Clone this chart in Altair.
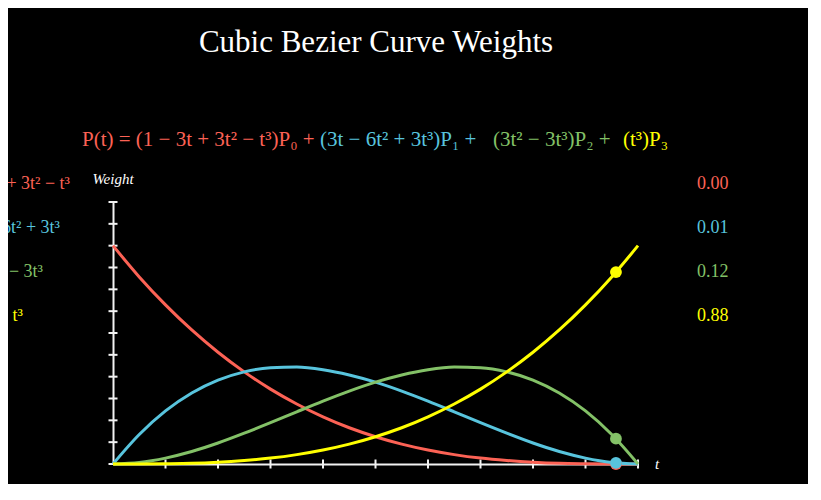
import altair as alt
import pandas as pd

# ---- data ----
t_vals = [0.00, 0.05, 0.10, 0.15, 0.20, 0.25, 0.30, 0.35, 0.40, 0.45, 0.50,
          0.55, 0.60, 0.65, 0.70, 0.75, 0.80, 0.85, 0.90, 0.95, 1.00]
w_red = [1.000, 0.857, 0.729, 0.614, 0.512, 0.422, 0.343, 0.275, 0.216, 0.166, 0.125,
         0.091, 0.064, 0.043, 0.027, 0.016, 0.008, 0.003, 0.001, 0.000, 0.000]
w_blue = [0.000, 0.135, 0.243, 0.325, 0.384, 0.422, 0.441, 0.444, 0.432, 0.408, 0.375,
          0.334, 0.288, 0.239, 0.189, 0.141, 0.096, 0.057, 0.027, 0.007, 0.000]
w_green = [0.000, 0.007, 0.027, 0.057, 0.096, 0.141, 0.189, 0.239, 0.288, 0.334, 0.375,
           0.408, 0.432, 0.444, 0.441, 0.422, 0.384, 0.325, 0.243, 0.135, 0.000]
w_yellow = [0.000, 0.000, 0.001, 0.003, 0.008, 0.016, 0.027, 0.043, 0.064, 0.091, 0.125,
            0.166, 0.216, 0.275, 0.343, 0.422, 0.512, 0.614, 0.729, 0.857, 1.000]

series = ["B0", "B1", "B2", "B3"]
colors = ["#FC6255", "#58C4DD", "#83C167", "#FFFF00"]

t_now = 0.958
dot_values = [0.0001, 0.005, 0.116, 0.879]

x_ticks = [0.1, 0.2, 0.3, 0.4, 0.5, 0.6, 0.7, 0.8, 0.9, 1.0]
y_ticks = [0.0, 0.1, 0.2, 0.3, 0.4, 0.5, 0.6, 0.7, 0.8, 0.9, 1.0, 1.1, 1.2]

title_text = "Cubic Bezier Curve Weights"
formula_parts = ["P(t) = (1 − 3t + 3t² − t³)P₀ +",
                 "(3t − 6t² + 3t³)P₁ +",
                 "(3t² − 3t³)P₂ +",
                 "(t³)P₃"]
left_labels = ["B₀(t) = 1 − 3t + 3t² − t³",
               "B₁(t) = 3t − 6t² + 3t³",
               "B₂(t) = 3t² − 3t³",
               "B₃(t) = t³"]

# ---- tables ----
rows = []
for name, ws in zip(series, [w_red, w_blue, w_green, w_yellow]):
    for tv, wv in zip(t_vals, ws):
        rows.append({"t": tv, "w": wv, "s": name})
curves = pd.DataFrame(rows)
dots = pd.DataFrame({"t": [t_now] * 4, "w": dot_values, "s": series})
xt = pd.DataFrame({"t": x_ticks})
yt = pd.DataFrame({"w": y_ticks})

W, H = 525, 262
FONT = "Liberation Serif"
AX = "#f2f2f2"

xs = alt.Scale(domain=[0, 1], nice=False, zero=False)
ys = alt.Scale(domain=[0, 1.2], nice=False, zero=False)
cs = alt.Scale(domain=series, range=colors)

X = alt.X("t:Q", scale=xs, title="")
Y = alt.Y("w:Q", scale=ys, title="")

axes = alt.Chart(curves).mark_point(opacity=0).encode(x=X, y=Y)

xtick_layer = alt.Chart(xt).mark_rule(color=AX, strokeWidth=2, yOffset=-4.5, y2Offset=4.5).encode(
    x=X,
    y=alt.datum(0),
    y2=alt.datum(0),
)
ytick_layer = alt.Chart(yt).mark_rule(color=AX, strokeWidth=2, xOffset=-4.5, x2Offset=4.5).encode(
    y=Y,
    x=alt.datum(0),
    x2=alt.datum(0),
)

lines = alt.Chart(curves).mark_line(strokeWidth=3, interpolate="monotone").encode(
    x=X, y=Y,
    color=alt.Color("s:N", scale=cs, legend=None),
    order=alt.Order("t:Q"),
)

points = alt.Chart(dots).mark_circle(size=140, opacity=1).encode(
    x=X, y=Y,
    color=alt.Color("s:N", scale=cs, legend=None),
)

# ---- texts ----
def txt(text, x, y, size, color="white", align="left", style="normal"):
    d = pd.DataFrame({"label": [text]})
    return alt.Chart(d).mark_text(
        font=FONT, fontSize=size, color=color, align=align, baseline="middle",
        fontStyle=style,
    ).encode(text="label:N", x=alt.value(x), y=alt.value(y))

layers = [axes, xtick_layer, ytick_layer, lines, points]
layers.append(txt(title_text, 263, -159, 31, align="center"))

fx = [82 - 113, 320 - 113, 493 - 113, 623 - 113]
for part, x0, c in zip(formula_parts, fx, colors):
    layers.append(txt(part, x0, -62, 21, color=c))

ly = [184 - 202, 228 - 202, 272 - 202, 316 - 202]
lx = [70 - 113, 60 - 113, 43 - 113, 23 - 113]
for lab, x0, y0, c in zip(left_labels, lx, ly, colors):
    layers.append(txt(lab, x0, y0, 18, color=c, align="right"))

for v, y0, c in zip(dot_values, ly, colors):
    layers.append(txt(f"{v:.2f}", 697 - 113, y0, 18, color=c))

layers.append(txt("Weight", 0, -23, 15, style="italic", align="center"))
layers.append(txt("t", 542, 262, 15, style="italic"))

chart = alt.layer(*layers).properties(
    width=W, height=H,
    autosize=alt.AutoSizeParams(type="none"),
    padding={"left": 105, "top": 194, "right": 170, "bottom": 20},
    background="black",
).configure_view(stroke=None).configure_axis(
    domainColor=AX, domainWidth=2, ticks=False, labels=False, grid=False,
    titleOpacity=0,
)

chart.save("out.html", embed_options={"renderer": "svg", "actions": False})
